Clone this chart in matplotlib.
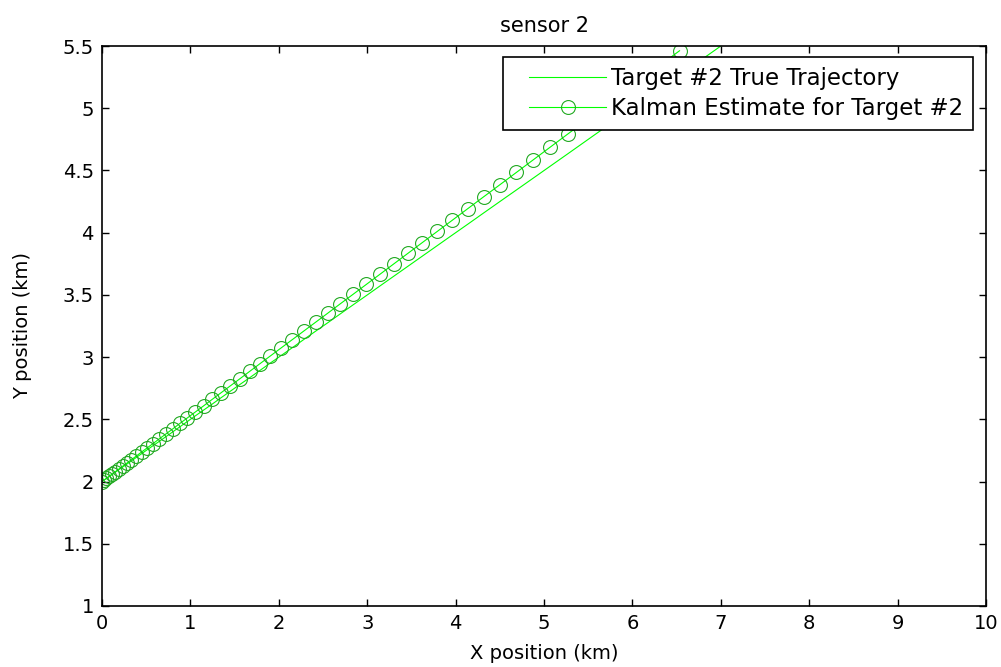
import matplotlib
matplotlib.use("Agg")
import matplotlib.pyplot as plt
from matplotlib.legend_handler import HandlerLine2D

# ------------------------------------------------------------
# Data (km)
# ------------------------------------------------------------

true_x = [0.000, 0.022, 0.048, 0.077, 0.110, 0.147, 0.187, 0.232, 0.280, 0.332,
          0.387, 0.446, 0.509, 0.576, 0.647, 0.721, 0.799, 0.880, 0.966, 1.055,
          1.148, 1.245, 1.345, 1.449, 1.557, 1.669, 1.784, 1.903, 2.026, 2.153,
          2.283, 2.417, 2.555, 2.696, 2.842, 2.991, 3.144, 3.300, 3.460, 3.624,
          3.792, 3.964, 4.139, 4.318, 4.500, 4.687, 4.877, 5.071, 5.269, 5.470,
          5.675, 5.884, 6.097, 6.313, 6.533, 6.757, 6.984, 7.216]

true_y = [2.000, 2.011, 2.024, 2.038, 2.055, 2.073, 2.094, 2.116, 2.140, 2.166,
          2.194, 2.223, 2.255, 2.288, 2.323, 2.360, 2.399, 2.440, 2.483, 2.528,
          2.574, 2.622, 2.673, 2.725, 2.779, 2.834, 2.892, 2.952, 3.013, 3.076,
          3.142, 3.209, 3.277, 3.348, 3.421, 3.495, 3.572, 3.650, 3.730, 3.812,
          3.896, 3.982, 4.069, 4.159, 4.250, 4.343, 4.438, 4.535, 4.634, 4.735,
          4.838, 4.942, 5.048, 5.156, 5.266, 5.378, 5.492, 5.608]

est_x = [0.000, 0.022, 0.048, 0.077, 0.110, 0.147, 0.187, 0.232, 0.280, 0.332,
         0.387, 0.446, 0.509, 0.576, 0.647, 0.721, 0.799, 0.880, 0.966, 1.055,
         1.148, 1.245, 1.345, 1.449, 1.557, 1.669, 1.784, 1.903, 2.026, 2.153,
         2.283, 2.417, 2.555, 2.696, 2.842, 2.991, 3.144, 3.300, 3.460, 3.624,
         3.792, 3.964, 4.139, 4.318, 4.500, 4.687, 4.877, 5.071, 5.269, 5.470,
         5.675, 5.884, 6.097, 6.313, 6.533]

est_y = [2.000, 2.012, 2.025, 2.041, 2.058, 2.078, 2.099, 2.123, 2.148, 2.176,
         2.205, 2.237, 2.270, 2.305, 2.343, 2.382, 2.423, 2.467, 2.512, 2.559,
         2.608, 2.660, 2.713, 2.768, 2.825, 2.885, 2.946, 3.009, 3.074, 3.141,
         3.210, 3.281, 3.354, 3.429, 3.506, 3.585, 3.666, 3.749, 3.834, 3.921,
         4.010, 4.101, 4.194, 4.289, 4.385, 4.484, 4.585, 4.688, 4.793, 4.899,
         5.008, 5.119, 5.231, 5.346, 5.462]

x_ticks = [0, 1, 2, 3, 4, 5, 6, 7, 8, 9, 10]
y_ticks = [1, 1.5, 2, 2.5, 3, 3.5, 4, 4.5, 5, 5.5]
y_tick_labels = ["1", "1.5", "2", "2.5", "3", "3.5", "4", "4.5", "5", "5.5"]

# ------------------------------------------------------------
# Figure
# ------------------------------------------------------------

plt.rcParams["font.family"] = ["DejaVu Sans"]

fig = plt.figure(figsize=(10.01, 6.67), dpi=100)
ax = fig.add_axes([0.102, 0.0915, 0.883, 0.8395])

true_line, = ax.plot(true_x, true_y, color="#00ff00", linewidth=0.8,
                     label="Target #2 True Trajectory")

est_line, = ax.plot(est_x, est_y, color="#00ff00", linewidth=0.8, marker="o",
                    markersize=10, markerfacecolor="none",
                    markeredgecolor="#22aa22", markeredgewidth=0.8,
                    label="Kalman Estimate for Target #2")

ax.set_xlim(0, 10)
ax.set_ylim(1, 5.5)
ax.set_xticks(x_ticks)
ax.set_yticks(y_ticks)
ax.set_yticklabels(y_tick_labels)

ax.tick_params(direction="in", length=5, width=1, top=True, right=True,
               labelsize=14, colors="black", pad=6)

for side in ax.spines.values():
    side.set_linewidth(1.2)

ax.set_title("sensor 2", fontsize=15, pad=10)
ax.set_xlabel("X position (km)", fontsize=14, va="center")
ax.xaxis.set_label_coords(0.5, -0.0857)
ax.set_ylabel("Y position (km)", fontsize=14, va="center")
ax.yaxis.set_label_coords(-0.0905, 0.5)

legend = ax.legend(loc="upper right", bbox_to_anchor=(0.9853, 0.9804),
                   fancybox=False, framealpha=1, edgecolor="black",
                   fontsize=16.5, handlelength=4.1, handletextpad=0.22,
                   borderpad=0.42, labelspacing=0.33, borderaxespad=0,
                   handler_map={true_line: HandlerLine2D(xpad=0.75),
                                est_line: HandlerLine2D(xpad=0.75)})
legend.get_frame().set_linewidth(1.2)

fig.savefig("out.png", dpi=100)
